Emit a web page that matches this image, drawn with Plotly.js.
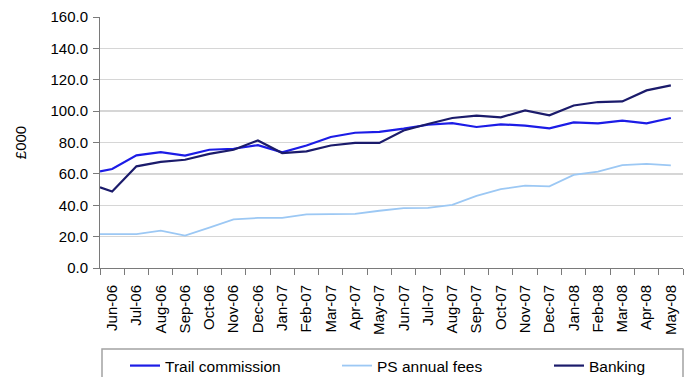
<!DOCTYPE html>
<html>
<head>
<meta charset="utf-8">
<script src="https://cdn.plot.ly/plotly-3.0.1.min.js"></script>
<style>
  html, body { margin: 0; padding: 0; background: #ffffff; }
  #chart { width: 688px; height: 377px; }
</style>
</head>
<body>
<div id="chart"></div>
<script>
// Month labels on the category axis
const months = ['Jun-06', 'Jul-06', 'Aug-06', 'Sep-06', 'Oct-06', 'Nov-06', 'Dec-06',
  'Jan-07', 'Feb-07', 'Mar-07', 'Apr-07', 'May-07', 'Jun-07', 'Jul-07', 'Aug-07',
  'Sep-07', 'Oct-07', 'Nov-07', 'Dec-07', 'Jan-08', 'Feb-08', 'Mar-08', 'Apr-08', 'May-08'];

// Series names
const seriesNames = ['Trail commission', 'PS annual fees', 'Banking'];

// Opening level of each series at the start of the period (£000)
const openingValues = [61.6, 21.6, 51.4];

// Monthly values (£000)
const trailCommission = [63.1, 71.8, 73.9, 71.7, 75.4, 76.0, 78.3, 73.7, 78.1, 83.5, 86.2, 86.8,
  88.8, 91.3, 92.4, 89.9, 91.6, 90.8, 89.0, 92.8, 92.2, 94.0, 92.2, 95.6];
const psAnnualFees = [21.6, 21.6, 23.8, 20.7, 25.8, 31.0, 31.9, 32.0, 34.2, 34.5, 34.5, 36.5,
  38.2, 38.3, 40.3, 46.0, 50.3, 52.5, 52.0, 59.3, 61.4, 65.6, 66.4, 65.4];
const banking = [48.8, 64.8, 67.6, 69.0, 72.7, 75.4, 81.3, 73.3, 74.3, 78.1, 79.7, 79.7,
  87.7, 91.8, 95.6, 97.1, 96.0, 100.5, 97.3, 103.6, 105.8, 106.2, 113.2, 116.4];

const FONT = 'Liberation Sans, Arial, Helvetica, sans-serif';
const colors = ['#1c1ce6', '#9cc8f4', '#1b1b6b'];
const widths = [2.2, 1.8, 2.2];

// Plot area in pixels (used to place the legend entries in paper units)
const PLOT = { left: 100, right: 683, top: 17, bottom: 268 };
const pw = PLOT.right - PLOT.left;
const ph = PLOT.bottom - PLOT.top;
const px2x = p => (p - PLOT.left) / pw;
const px2y = p => (PLOT.bottom - p) / ph;

// Category index for each month; the opening level sits on the left edge of the axis
const monthIndex = months.map((_, i) => i);
const xs = [-0.5].concat(monthIndex);

const legendIds = ['legend', 'legend2', 'legend3'];
const legendLeft = [125, 337, 549];

const traces = [trailCommission, psAnnualFees, banking].map((vals, k) => ({
  type: 'scatter',
  mode: 'lines',
  name: seriesNames[k],
  legend: legendIds[k],
  x: xs,
  y: [openingValues[k]].concat(vals),
  line: { color: colors[k], width: widths[k] },
  hoverinfo: 'skip'
}));

const layout = {
  width: 688,
  height: 377,
  margin: { l: PLOT.left, r: 688 - PLOT.right, t: PLOT.top, b: 377 - PLOT.bottom, autoexpand: false },
  paper_bgcolor: '#ffffff',
  plot_bgcolor: '#ffffff',
  font: { family: FONT, size: 15, color: '#000000' },
  showlegend: true,
  xaxis: {
    type: 'linear',
    range: [-0.5, months.length - 0.5],
    tickmode: 'array',
    tickvals: monthIndex,
    ticktext: months,
    tickangle: -90,
    ticks: '',
    ticklabelstandoff: 10,
    tickfont: { family: FONT, size: 15, color: '#000000' },
    showgrid: false,
    zeroline: false,
    showline: true,
    linecolor: '#7a7a7a',
    linewidth: 1,
    minor: {
      ticks: 'outside',
      tick0: -0.5,
      dtick: 1,
      ticklen: 6,
      tickcolor: '#7a7a7a',
      tickwidth: 1,
      showgrid: false
    },
    fixedrange: true
  },
  yaxis: {
    range: [0, 160],
    tick0: 0,
    dtick: 20,
    tickformat: '.1f',
    ticks: 'outside',
    ticklen: 6,
    tickcolor: '#7a7a7a',
    ticklabelstandoff: 2,
    tickfont: { family: FONT, size: 15, color: '#000000' },
    showgrid: true,
    gridcolor: '#d6d6d6',
    gridwidth: 1.3,
    zeroline: false,
    showline: true,
    linecolor: '#7a7a7a',
    linewidth: 1,
    title: { text: '£000', font: { family: FONT, size: 15, color: '#000000' }, standoff: 20 },
    fixedrange: true
  },
  shapes: [{
    // Frame around the legend row
    type: 'rect',
    xref: 'paper', yref: 'paper',
    x0: px2x(102), x1: px2x(683),
    y0: px2y(349), y1: px2y(395),
    line: { color: '#a3a3a3', width: 1.5 },
    fillcolor: 'rgba(0,0,0,0)',
    layer: 'above'
  }]
};

// One legend per series so each entry sits at its own spot along the row
legendIds.forEach((id, k) => {
  layout[id] = {
    orientation: 'h',
    x: px2x(legendLeft[k]),
    xanchor: 'left',
    y: px2y(366),
    yanchor: 'middle',
    bgcolor: 'rgba(0,0,0,0)',
    borderwidth: 0,
    font: { family: FONT, size: 15.5, color: '#000000' },
    itemclick: false
  };
});

Plotly.newPlot('chart', traces, layout, { staticPlot: true, displayModeBar: false });
</script>
</body>
</html>
